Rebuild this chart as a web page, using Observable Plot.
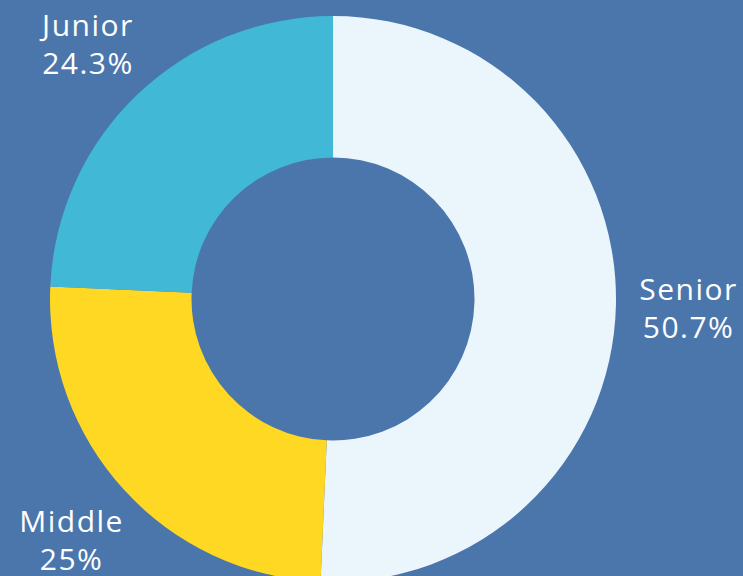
<!DOCTYPE html>
<html><head><meta charset="utf-8">
<script src="https://cdn.jsdelivr.net/npm/d3@7"></script>
<script src="https://cdn.jsdelivr.net/npm/@observablehq/plot@0.6"></script>
<style>
html,body{margin:0;padding:0;background:#4b76ac;}
#chart svg{display:block;}
</style></head>
<body><div id="chart"></div>
<script>
const categories = ["Senior", "Middle", "Junior"];
const values = [50.7, 25, 24.3];
const labels = ["50.7%", "25%", "24.3%"];
const colors = ["#eaf5fc", "#fed823", "#41b8d6"];

const W = 743, H = 576;
const cx = 333, cy = 299, R = 283, innerFrac = 0.5, labelFrac = 1.255;

const pie = d3.pie().sort(null).value(d => d.value)(
  categories.map((c, i) => ({category: c, value: values[i], label: labels[i], color: colors[i]}))
);
const data = pie.map(p => {
  const mid = (p.startAngle + p.endAngle) / 2;
  return {...p.data, startAngle: p.startAngle, endAngle: p.endAngle,
    lx: labelFrac * Math.sin(mid), ly: labelFrac * Math.cos(mid)};
});

const arcMark = (index, scales) => {
  const x0 = scales.x(0), y0 = scales.y(0);
  const r = scales.x(1) - x0;
  const arc = d3.arc().innerRadius(r * innerFrac).outerRadius(r);
  const g = d3.create("svg:g").attr("transform", `translate(${x0},${y0})`);
  g.selectAll("path").data(data).join("path")
    .attr("d", d => arc(d))
    .attr("fill", d => d.color);
  return g.node();
};

const textOpts = {x: "lx", y: "ly", fill: "white", fontSize: 30, fontWeight: 400, textAnchor: "middle", lineAnchor: "middle"};

const chart = Plot.plot({
  width: W, height: H,
  margin: 0,
  style: "background:#4b76ac;font-family:'Open Sans',sans-serif;letter-spacing:1.5px;",
  x: {domain: [-cx / R, (W - cx) / R], range: [0, W], axis: null},
  y: {domain: [-(H - cy) / R, cy / R], range: [H, 0], axis: null},
  marks: [
    arcMark,
    Plot.text(data, {...textOpts, text: "category", dy: -17}),
    Plot.text(data, {...textOpts, text: "label", dy: 21})
  ]
});
document.getElementById("chart").append(chart);
</script>
</body></html>
